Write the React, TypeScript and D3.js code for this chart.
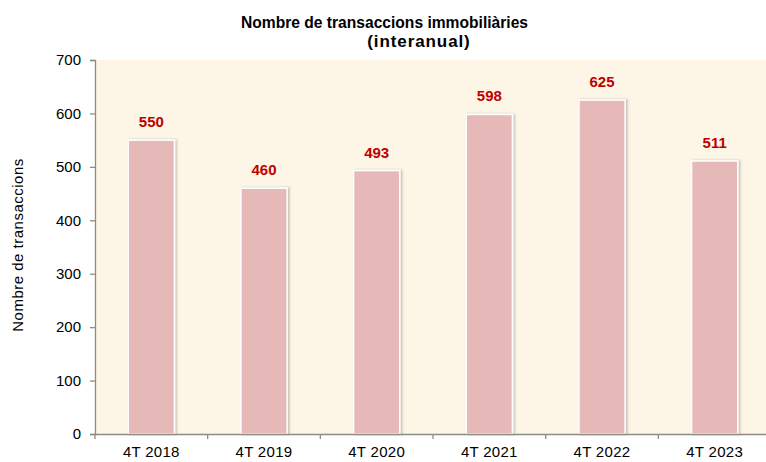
import React, { useEffect, useRef } from "react";
import * as d3 from "d3";

const categories = ["4T 2018", "4T 2019", "4T 2020", "4T 2021", "4T 2022", "4T 2023"];
const values = [550, 460, 493, 598, 625, 511];
const yTicks = [0, 100, 200, 300, 400, 500, 600, 700];

const W = 766;
const H = 462;
const margin = { top: 60, right: -5, bottom: 28, left: 95 };
const FONT = "Liberation Sans, Arial, sans-serif";

const App = () => {
  const ref = useRef<SVGSVGElement>(null);

  useEffect(() => {
    const svg = d3.select(ref.current);
    svg.selectAll("*").remove();

    const x = d3.scaleBand().domain(categories).range([margin.left, W - margin.right]).paddingInner(0).paddingOuter(0);
    const y = d3.scaleLinear().domain([0, 700]).range([H - margin.bottom, margin.top]);

    const defs = svg.append("defs");
    const f = defs.append("filter").attr("id", "shadow").attr("x", "-20%").attr("y", "-20%").attr("width", "140%").attr("height", "140%");
    f.append("feDropShadow").attr("dx", 1.5).attr("dy", 0).attr("stdDeviation", 1).attr("flood-color", "#000").attr("flood-opacity", 0.25);

    // plot background
    svg.append("rect")
      .attr("x", margin.left).attr("y", margin.top)
      .attr("width", W - margin.right - margin.left).attr("height", y(0) - margin.top)
      .attr("fill", "#FDF6E6");

    const bw = x.bandwidth() * 0.41;
    svg.append("g").selectAll("rect").data(values).join("rect")
      .attr("x", (d, i) => x(categories[i])! + (x.bandwidth() - bw) / 2)
      .attr("y", d => y(d))
      .attr("width", bw)
      .attr("height", d => y(0) - y(d))
      .attr("fill", "#E6B8B7")
      .attr("stroke", "#ffffff")
      .attr("stroke-width", 1.5)
      .attr("filter", "url(#shadow)");

    svg.append("g").selectAll("text").data(values).join("text")
      .attr("x", (d, i) => x(categories[i])! + x.bandwidth() / 2)
      .attr("y", d => y(d) - 13)
      .attr("text-anchor", "middle")
      .attr("font-family", FONT)
      .attr("font-weight", "bold")
      .attr("font-size", 15)
      .attr("fill", "#C00000")
      .text(d => d);

    // y axis
    const yAxis = svg.append("g").attr("transform", `translate(${margin.left},0)`)
      .call(d3.axisLeft(y).tickValues(yTicks).tickSize(5).tickPadding(9));
    // x axis
    const xAxis = svg.append("g").attr("transform", `translate(0,${y(0)})`)
      .call(d3.axisBottom(x).tickSize(0).tickPadding(12));
    xAxis.selectAll(".band-tick").data(d3.range(categories.length + 1)).join("line")
      .attr("x1", i => margin.left + i * x.step()).attr("x2", i => margin.left + i * x.step())
      .attr("y1", 0).attr("y2", 5);

    [yAxis, xAxis].forEach(g => {
      g.select(".domain").attr("stroke", "#8C8C8C").attr("stroke-width", 1.3);
      g.selectAll("line").attr("stroke", "#8C8C8C").attr("stroke-width", 1.3);
      g.selectAll("text")
        .attr("font-family", FONT)
        .attr("font-size", 15)
        .attr("fill", "#000");
    });
    xAxis.selectAll(".tick line").remove();
    xAxis.selectAll("text").attr("letter-spacing", 0.3);

    svg.append("text")
      .attr("transform", `translate(23,${(margin.top + y(0)) / 2 - 2}) rotate(-90)`)
      .attr("text-anchor", "middle")
      .attr("font-family", FONT)
      .attr("font-size", 15)
      .attr("letter-spacing", 0.5)
      .text("Nombre de transaccions");

    svg.append("text")
      .attr("x", 241).attr("y", 28)
      .attr("textLength", 287).attr("lengthAdjust", "spacingAndGlyphs")
      .attr("font-family", FONT).attr("font-weight", "bold").attr("font-size", 17)
      .text("Nombre de transaccions immobiliàries");
    svg.append("text")
      .attr("x", 419).attr("y", 47)
      .attr("text-anchor", "middle")
      .attr("letter-spacing", 0.9)
      .attr("font-family", FONT).attr("font-weight", "bold").attr("font-size", 17)
      .text("(interanual)");
  }, []);

  return (
    <svg ref={ref} width={W} height={H}
      style={{ position: "absolute", left: 0, top: 0, background: "#fff", display: "block" }} />
  );
};

export default App;
